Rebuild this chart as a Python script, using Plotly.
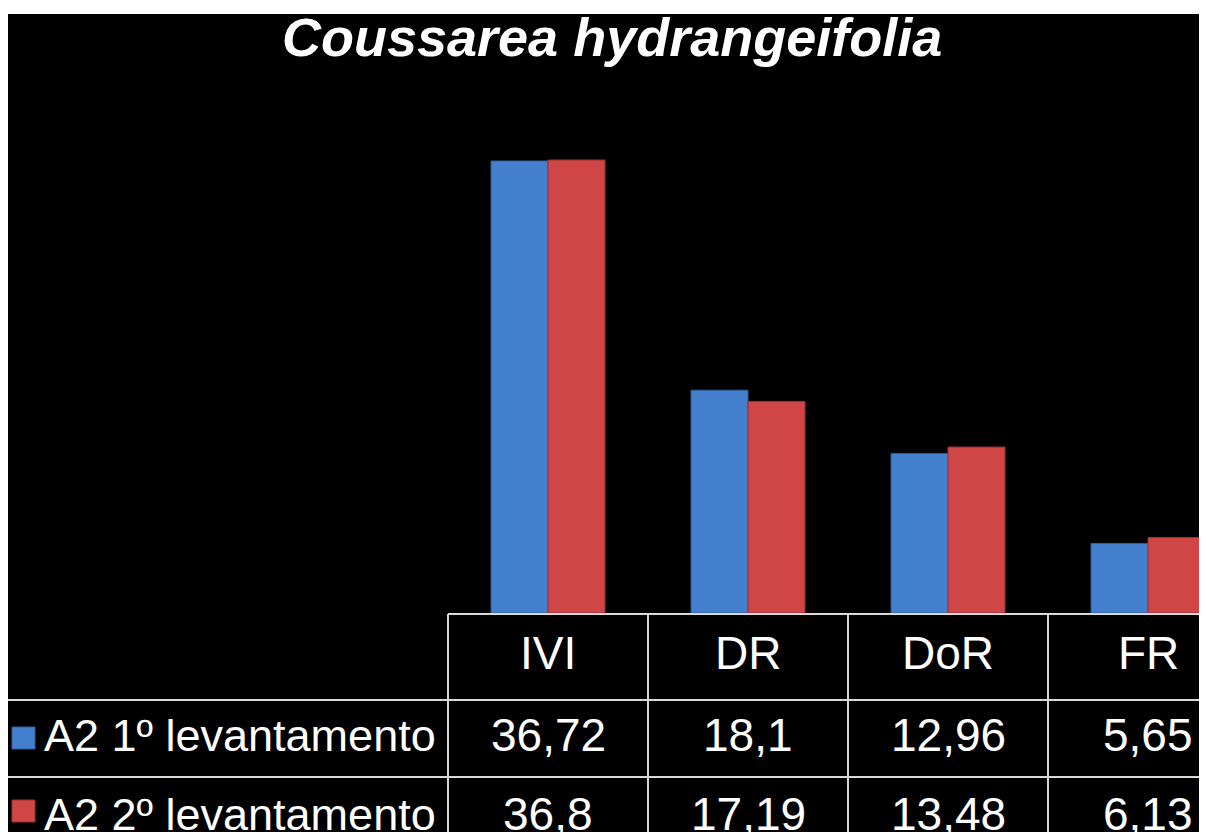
import plotly.graph_objects as go

categories = ['IVI', 'DR', 'DoR', 'FR']
serie1_name = 'A2 1º levantamento'
serie2_name = 'A2 2º levantamento'
serie1 = [36.72, 18.1, 12.96, 5.65]
serie2 = [36.8, 17.19, 13.48, 6.13]

OFF = 8                      # page margin of the html body
W, H = 1207 - OFF, 832 - OFF
ML, MT, MB = 440, 6, 219     # plot area in figure pixels
PW = W - ML
PH = H - MT - MB

# helpers: page pixel -> paper coordinate
def px_x(px):
    return (px - OFF - ML) / PW

def px_y(py):
    return (H - MB - (py - OFF)) / PH

blue = '#4580cf'
red = '#d04545'
font = 'Liberation Sans, Arial, sans-serif'

fig = go.Figure()
fig.add_trace(go.Bar(x=categories, y=serie1, name=serie1_name,
                     marker=dict(color=blue, line=dict(color='#2f5d9e', width=1))))
fig.add_trace(go.Bar(x=categories, y=serie2, name=serie2_name,
                     marker=dict(color=red, line=dict(color='#9e2f2f', width=1))))

shapes = []
# white strip on top
shapes.append(dict(type='rect', xref='paper', yref='paper', x0=px_x(0), x1=px_x(1215),
                   y0=px_y(14), y1=px_y(0), fillcolor='white', line=dict(width=0), layer='above'))
line_col = '#d9d9d9'
# table grid
shapes.append(dict(type='line', xref='paper', yref='paper', x0=px_x(448), x1=px_x(1215),
                   y0=px_y(614), y1=px_y(614), line=dict(color=line_col, width=2)))
for yy in [700, 777]:
    shapes.append(dict(type='line', xref='paper', yref='paper', x0=px_x(8), x1=px_x(1215),
                       y0=px_y(yy), y1=px_y(yy), line=dict(color=line_col, width=2)))
for xx in [448, 648, 848, 1048]:
    shapes.append(dict(type='line', xref='paper', yref='paper', x0=px_x(xx), x1=px_x(xx),
                       y0=px_y(614), y1=px_y(840), line=dict(color=line_col, width=2)))
# legend keys
shapes.append(dict(type='rect', xref='paper', yref='paper', x0=px_x(12), x1=px_x(35),
                   y0=px_y(727), y1=px_y(749), fillcolor=blue, line=dict(color='#2f5d9e', width=1)))
shapes.append(dict(type='rect', xref='paper', yref='paper', x0=px_x(12), x1=px_x(35),
                   y0=px_y(800), y1=px_y(822), fillcolor=red, line=dict(color='#9e2f2f', width=1)))

annotations = []
annotations.append(dict(text='<b><i>Coussarea hydrangeifolia</i></b>', xref='paper', yref='paper',
                        x=px_x(612), y=px_y(37), showarrow=False, xanchor='center', yanchor='middle',
                        font=dict(family=font, size=54, color='white')))
for cat, v1, v2 in zip(categories, serie1, serie2):
    annotations.append(dict(text=cat, xref='x', yref='paper', x=cat, y=px_y(653),
                            showarrow=False, yanchor='middle',
                            font=dict(family=font, size=46, color='white')))
    annotations.append(dict(text=str(v1).replace('.', ','), xref='x', yref='paper', x=cat, y=px_y(735),
                            showarrow=False, yanchor='middle',
                            font=dict(family=font, size=46, color='white')))
    annotations.append(dict(text=str(v2).replace('.', ','), xref='x', yref='paper', x=cat, y=px_y(814),
                            showarrow=False, yanchor='middle',
                            font=dict(family=font, size=46, color='white')))
for name, yy in [(serie1_name, 735), (serie2_name, 814)]:
    annotations.append(dict(text=name, xref='paper', yref='paper', x=px_x(42), y=px_y(yy),
                            showarrow=False, xanchor='left', yanchor='middle',
                            font=dict(family=font, size=45, color='white')))

fig.update_layout(
    width=W, height=H,
    margin=dict(l=ML, r=0, t=MT, b=MB, pad=0),
    paper_bgcolor='black', plot_bgcolor='black',
    barmode='group', bargap=0.43, bargroupgap=0,
    showlegend=False,
    xaxis=dict(range=[-0.5, -0.5 + PW / 200], showticklabels=False, showgrid=False,
               zeroline=False, showline=False, fixedrange=True),
    yaxis=dict(range=[0, PH / 12.31], visible=False, fixedrange=True),
    shapes=shapes,
    annotations=annotations,
)

fig.write_html("out.html")
